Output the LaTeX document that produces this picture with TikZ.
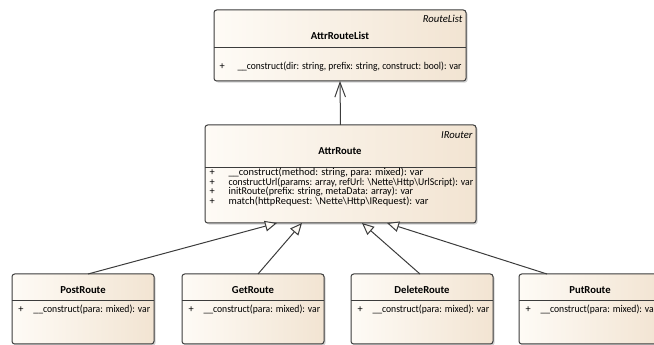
\documentclass[tikz,border=0pt]{standalone}
\usepackage{fontspec}
\setmainfont{Carlito}
\usetikzlibrary{arrows.meta,calc,shadows}

\definecolor{boxleft}{RGB}{254,251,246}
\definecolor{boxright}{RGB}{242,228,210}
\definecolor{boxline}{RGB}{60,60,60}

% operation text squeezed to the width it has in the diagram
\newcommand{\opfit}[2]{\resizebox{#1}{\height}{#2}}

\tikzset{every picture/.style={line width=0.75pt}}
\tikzset{
  umlbox/.style={draw=boxline, rounded corners=2pt, inner sep=0pt, outer sep=0pt, anchor=north west,
    left color=boxleft, right color=boxright,
    drop shadow={shadow xshift=1.2pt, shadow yshift=-1.2pt, fill=black!35, opacity=0.5}},
  umlname/.style={inner sep=0.75pt, font=\fontsize{8}{9.6}\selectfont\bfseries},
  umlstereo/.style={anchor=east, inner sep=0.75pt, font=\fontsize{8}{9.6}\selectfont\itshape},
  umlop/.style={anchor=west, inner sep=0.75pt, font=\fontsize{7.8}{9.4}\selectfont},
  gen/.style={draw=boxline, -{Triangle[open, fill=boxleft, length=9pt, width=8pt]}},
  assoc/.style={draw=boxline, -{Straight Barb[length=11pt, width=8pt]}}
}

\begin{document}
\begin{tikzpicture}[x=0.75pt,y=0.75pt,yscale=-1,xscale=1]
\useasboundingbox (0,0) rectangle (654,345);
\clip (0,0) rectangle (654,345);

%Class boxes
\node [umlbox, minimum width=189pt, minimum height=53.25pt] (routelist) at (214,10) {};
\node [umlbox, minimum width=203.25pt, minimum height=73.5pt] (attrroute) at (205,125) {};
\node [umlbox, minimum width=106.5pt, minimum height=52.5pt] (postroute) at (12,274) {};
\node [umlbox, minimum width=106.5pt, minimum height=52.5pt] (getroute) at (182,274) {};
\node [umlbox, minimum width=106.5pt, minimum height=52.5pt] (deleteroute) at (351,274) {};
\node [umlbox, minimum width=106.5pt, minimum height=52.5pt] (putroute) at (519,274) {};

%Compartment lines
\draw [boxline]    (214,48) -- (466,48) ;
\draw [boxline]    (205,168) -- (476,168) ;
\draw [boxline]    (12,301) -- (154,301) ;
\draw [boxline]    (182,301) -- (324,301) ;
\draw [boxline]    (351,301) -- (493,301) ;
\draw [boxline]    (519,301) -- (661,301) ;

%Association
\draw [assoc]   (attrroute.north) -- (routelist.south) ;
%Generalizations
\draw [gen]   ($(postroute.north west)+(76,0)$) -- ($(attrroute.south west)+(72,0)$) ;
\draw [gen]   ($(getroute.north west)+(76,0)$) -- ($(attrroute.south west)+(97,0)$) ;
\draw [gen]   ($(deleteroute.north west)+(69,0)$) -- ($(attrroute.south west)+(157,0)$) ;
\draw [gen]   ($(putroute.north west)+(28,0)$) -- ($(attrroute.south west)+(182,0)$) ;

% Text Node
\draw (464,19) node [umlstereo] (listst) {RouteList};
% Text Node
\draw (340,36) node [umlname] (listname) {AttrRouteList};
% Text Node
\draw (218,67) node [umlop] (listplus) {+};
% Text Node
\draw (236,67) node [umlop] (listop) {\opfit{168pt}{\_\_construct(dir: string, prefix: string, construct: bool): var}};

% Text Node
\draw (474,135) node [umlstereo] (attrst) {IRouter};
% Text Node
\draw (340,151) node [umlname] (attrname) {AttrRoute};
% Text Node
\draw (208,173) node [umlop] (attrplusa) {+};
% Text Node
\draw (208,182.5) node [umlop] (attrplusb) {+};
% Text Node
\draw (208,192) node [umlop] (attrplusc) {+};
% Text Node
\draw (208,201.5) node [umlop] (attrplusd) {+};
% Text Node
\draw (227,173) node [umlop] (attropa) {\opfit{146pt}{\_\_construct(method: string, para: mixed): var}};
% Text Node
\draw (227,182.5) node [umlop] (attropb) {\opfit{183.5pt}{constructUrl(params: array, refUrl: \textbackslash Nette\textbackslash Http\textbackslash UrlScript): var}};
% Text Node
\draw (227,192) node [umlop] (attropc) {\opfit{138.5pt}{initRoute(prefix: string, metaData: array): var}};
% Text Node
\draw (227,201.5) node [umlop] (attropd) {\opfit{150pt}{match(httpRequest: \textbackslash Nette\textbackslash Http\textbackslash IRequest): var}};

% Text Node
\draw (83,290) node [umlname] (postname) {PostRoute};
% Text Node
\draw (17,310) node [umlop] (postplus) {+};
% Text Node
\draw (32,310) node [umlop] (postop) {\opfit{87.5pt}{\_\_construct(para: mixed): var}};
% Text Node
\draw (253,290) node [umlname] (getname) {GetRoute};
% Text Node
\draw (187,310) node [umlop] (getplus) {+};
% Text Node
\draw (202,310) node [umlop] (getop) {\opfit{87.5pt}{\_\_construct(para: mixed): var}};
% Text Node
\draw (422,290) node [umlname] (deletename) {DeleteRoute};
% Text Node
\draw (356,310) node [umlop] (deleteplus) {+};
% Text Node
\draw (371,310) node [umlop] (deleteop) {\opfit{87.5pt}{\_\_construct(para: mixed): var}};
% Text Node
\draw (590,290) node [umlname] (putname) {PutRoute};
% Text Node
\draw (524,310) node [umlop] (putplus) {+};
% Text Node
\draw (539,310) node [umlop] (putop) {\opfit{87.5pt}{\_\_construct(para: mixed): var}};

\end{tikzpicture}
\end{document}
